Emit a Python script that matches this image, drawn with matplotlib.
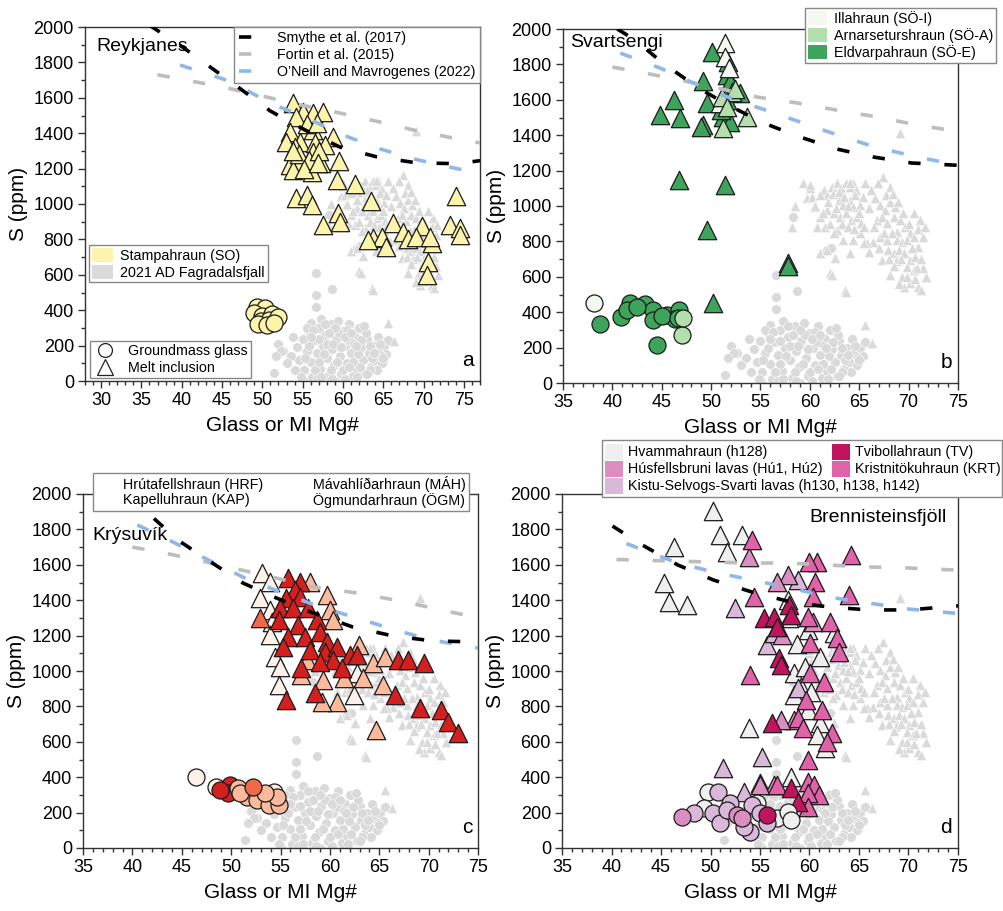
import matplotlib
matplotlib.use('Agg')
import matplotlib.pyplot as plt
from matplotlib.patches import Patch, Rectangle
from matplotlib.lines import Line2D

plt.rcParams['font.family'] = ['Liberation Sans', 'DejaVu Sans']

# ---------------- model curves (Mg#, S ppm) per panel ----------------
smythe_a = [(36, 2010), (40, 1890), (47, 1660), (51, 1525), (55.3, 1418), (59.6, 1322), (64.2, 1266), (69.2, 1232), (74.3, 1228), (77, 1245)]
fortin_a = [(37, 1730), (45.1, 1661), (50, 1610), (54.7, 1560), (59.6, 1514), (64.6, 1463), (69.3, 1412), (74.3, 1367), (77, 1345)]
oneill_a = [(39.8, 1785), (46.2, 1690), (50.9, 1571), (55.5, 1486), (60, 1390), (64.6, 1311), (69.3, 1249), (74.3, 1198), (77, 1180)]

smythe_b = [(40.5, 2000), (42.3, 1938), (45.1, 1808), (48.7, 1667), (51.7, 1571), (55.3, 1469), (59, 1390), (62.7, 1322), (66.4, 1277), (70.3, 1243), (75, 1230)]
fortin_b = [(40, 1785), (43.3, 1751), (46.8, 1712), (50.6, 1667), (54.6, 1616), (58.7, 1582), (62.7, 1542), (66.8, 1503), (70.4, 1463), (75, 1420)]
oneill_b = [(40.8, 1864), (44.8, 1780), (48.2, 1695), (51.9, 1610), (55.5, 1542), (59, 1475), (62.8, 1401), (66.6, 1333), (70.4, 1283), (75, 1230)]

smythe_c = [(39.5, 2000), (41.8, 1881), (44.6, 1740), (48.1, 1610), (51.2, 1497), (54.6, 1412), (58.3, 1328), (62.3, 1249), (66.4, 1198), (70.4, 1170), (75, 1164)]
fortin_c = [(40, 1700), (42.8, 1672), (46.6, 1627), (50.6, 1576), (54.6, 1525), (58.3, 1475), (62.7, 1441), (66.6, 1401), (70.4, 1356), (75, 1300)]
oneill_c = [(40.5, 1825), (44.1, 1729), (47.7, 1627), (51.4, 1525), (55.2, 1441), (59, 1362), (62.7, 1300), (66.6, 1232), (70.3, 1175), (75, 1130)]

smythe_d = [(40.1, 1819), (43.1, 1712), (46.7, 1599), (50.3, 1514), (54.2, 1446), (58.1, 1390), (61.9, 1362), (66, 1345), (70, 1345), (75, 1368)]
fortin_d = [(40.5, 1630), (45.6, 1622), (49.7, 1616), (53.7, 1610), (57.8, 1610), (61.8, 1599), (65.9, 1588), (69.9, 1582), (75, 1570)]
oneill_d = [(41.5, 1720), (46.4, 1616), (50.3, 1559), (54.2, 1514), (58.1, 1469), (61.9, 1418), (66, 1384), (70, 1350), (75, 1325)]

# ---------------- 2021 AD Fagradalsfjall (background, all panels) ----------------
fag_mi_x = [59.7, 60.2, 60.7, 61.4, 61.7, 62.2, 62.7, 63.2, 63.7, 64.1, 64.4, 64.7, 62.9, 63.4, 64.1, 64.4, 65.1, 65.6,
            61.7, 62.4, 63.1, 63.7, 64.2, 64.7, 65.2, 62.7, 63.4, 61.0, 61.7, 62.5, 62.0, 63.6, 67.4, 68.1, 66.6, 67.1,
            67.6, 68.1, 68.6, 66.8, 67.3, 67.8, 68.5, 69.1, 69.6, 68.8, 70.1, 71.2, 66.4, 67.1, 67.8, 68.3, 68.8, 69.3,
            69.8, 70.5, 71.0, 71.5, 67.3, 67.9, 68.5, 69.0, 69.5, 70.1, 70.6, 69.8, 70.5, 71.5, 68.1, 69.3, 70.1, 71.0,
            71.8, 71.3, 69.5, 69.1, 65.6, 66.3, 64.1, 62.4, 61.0, 60.4, 65.1, 64.4, 59.3, 58.5, 58.2, 64.1, 62.2, 63.7,
            62.5, 60.0, 65.8,
            60.0, 60.5, 61.0, 61.3, 61.8, 62.3, 62.6, 63.0, 63.5, 63.9, 64.6, 65.0, 65.4, 61.5, 62.0, 63.3, 63.9, 64.5,
            65.5, 66.0, 66.2, 66.9, 67.7, 68.4, 68.9, 69.4, 70.0, 70.5, 71.0, 71.7, 66.5, 67.0, 67.5, 68.0, 68.7, 69.2,
            70.3, 70.8, 71.3, 69.0, 69.8, 70.6, 68.5, 66.0, 65.5]
fag_mi_s = [1043, 1053, 883, 1090, 1062, 1109, 1128, 1100, 1128, 1109, 1128, 1090, 1034, 1006, 1034, 996, 1006, 1128,
            977, 959, 940, 959, 921, 940, 902, 864, 808, 733, 751, 714, 620, 525, 1166, 1109, 1043, 1006,
            977, 1025, 996, 921, 940, 902, 940, 921, 883, 855, 846, 921, 799, 827, 808, 846, 808, 799,
            808, 827, 770, 827, 695, 751, 733, 751, 733, 695, 714, 657, 638, 648, 610, 601, 563, 544,
            601, 525, 544, 1411, 328, 224, 733, 846, 940, 996, 846, 808, 1130, 1000, 880, 1130, 610, 514,
            706, 1100, 790,
            1120, 1000, 1060, 960, 1020, 1070, 990, 1080, 1050, 1000, 1060, 960, 1050, 880, 900, 900, 880, 870,
            880, 990, 1090, 1130, 1060, 1070, 1020, 960, 900, 960, 870, 880, 880, 760, 850, 700, 690, 700,
            760, 650, 700, 560, 600, 590, 660, 740, 790]
fag_gl_x = [54.3, 54.6, 55.0, 55.2, 55.5, 55.8, 56.0, 56.2, 56.5, 56.8, 57.0, 57.2, 57.5, 57.8, 58.0, 58.2, 58.5, 58.6,
            58.9, 59.1, 59.4, 59.6, 59.8, 60.0, 60.3, 60.5, 60.8, 61.0, 61.2, 61.5, 61.7, 62.0, 62.2, 62.5, 62.7, 63.0,
            63.2, 63.5, 63.8, 64.0, 64.3, 64.5, 64.8, 65.1, 65.4, 65.6, 57.3, 56.0, 59.0, 60.2, 61.9, 58.0, 57.0, 59.5,
            60.7, 62.8, 55.5, 56.5, 62.3, 63.6, 64.2, 61.3, 60.0, 58.5, 57.8, 59.0, 60.5, 52.0, 52.6, 53.5, 53.0, 54.0,
            53.8, 51.4, 52.3, 51.7, 55.1, 58.3, 61.7, 62.1, 56.6, 56.6, 56.6, 58.7, 54.8, 56.8, 59.8, 61.4, 63.3, 64.9,
            55.3, 55.8, 56.3, 57.0, 57.6, 58.3, 58.8, 59.3, 59.8, 60.2, 60.8, 61.0, 61.6, 62.1, 62.6, 63.3, 63.9, 64.6,
            65.0, 57.3, 58.6, 61.8, 63.0, 56.0]
fag_gl_s = [190, 120, 240, 60, 170, 280, 110, 20, 230, 160, 300, 70, 200, 260, 130, 30, 320, 180,
            90, 240, 340, 140, 40, 280, 200, 100, 320, 160, 30, 250, 70, 300, 190, 120, 40, 240,
            160, 80, 200, 120, 250, 170, 100, 200, 150, 230, 350, 330, 0, 10, 150, 210, 110, 270,
            230, 270, 300, 60, 230, 130, 60, 110, 60, 60, 320, 300, 290, 210, 170, 140, 100, 60,
            250, 45, 168, 139, 5, 940, 751, 765, 610, 484, 416, 522, 20, 10, 190, 210, 60, 140,
            130, 200, 290, 240, 150, 270, 210, 110, 190, 250, 80, 270, 200, 80, 310, 200, 160, 210,
            130, 20, 10, 20, 40, 250]

# ---------------- a: Reykjanes (Stampahraun, SO) ----------------
so_mi_x = [53.8, 55.0, 56.3, 57.5, 54.2, 53.4, 56.3, 58.8, 52.9, 54.7, 56.5, 57.8, 54.0, 56.3, 53.8, 54.7, 57.3, 59.5,
           53.4, 56.1, 53.8, 59.2, 61.5, 54.2, 55.6, 56.1, 59.4, 59.6, 57.5, 63.5, 66.2, 63.7, 64.8, 65.4, 67.5, 68.1,
           69.8, 69.1, 71.0, 70.6, 70.4, 74.0, 73.3, 74.5, 74.5, 63.1, 70.8, 55.5, 56.8, 54.5, 55.8, 57.0, 53.8, 55.2, 56.9]
so_mi_s = [1573, 1522, 1512, 1522, 1494, 1409, 1418, 1377, 1352, 1352, 1343, 1333, 1324, 1296, 1249, 1239, 1230, 1243,
           1220, 1183, 1192, 1136, 1113, 1032, 1051, 994, 947, 900, 881, 1019, 891, 806, 815, 759, 844, 801,
           876, 815, 781, 674, 599, 1045, 881, 863, 825, 797, 815, 1450, 1460, 1280, 1250, 1300, 1300, 1200, 1230]
so_gl_x = [49.3, 50.3, 49.0, 50.0, 51.2, 49.8, 50.8, 52.0, 49.5, 50.6, 51.5]
so_gl_s = [420, 410, 385, 370, 380, 340, 345, 360, 320, 315, 330]

# ---------------- b: Svartsengi ----------------
eld_mi_x = [50.1, 51.7, 51.6, 49.2, 52.9, 46.2, 49.6, 51.6, 44.8, 46.8, 49.2, 49.0, 51.2, 51.9, 46.7, 51.4, 49.6, 57.8,
            57.8, 50.2, 51.7, 51.9, 51.0]
eld_mi_s = [1872, 1815, 1740, 1708, 1637, 1599, 1580, 1599, 1514, 1496, 1458, 1448, 1505, 1476, 1147, 1119, 864, 680,
            660, 450, 1646, 1700, 1540]
ill_mi_x = [51.4, 51.4, 51.8, 50.9]
ill_mi_s = [1919, 1844, 1780, 1580]
arn_mi_x = [52.1, 51.1, 53.6, 51.2, 52.4, 51.6]
arn_mi_s = [1646, 1618, 1505, 1439, 1660, 1560]
eld_gl_x = [41.8, 43.3, 40.9, 38.7, 44.1, 44.1, 45.5, 46.7, 46.3, 44.5, 41.5, 42.5, 45.0, 46.6]
eld_gl_s = [450, 445, 375, 333, 412, 356, 384, 412, 362, 215, 412, 428, 380, 370]
ill_gl_x = [38.1]
ill_gl_s = [450]
arn_gl_x = [47.0, 47.2]
arn_gl_s = [271, 365]

# ---------------- c: Krýsuvík ----------------
hrf_mi_x = [53.1, 53.9, 52.9, 53.9, 54.1, 53.9, 54.4, 54.9, 54.8, 62.4, 62.7]
hrf_mi_s = [1552, 1505, 1411, 1345, 1279, 1203, 1081, 1024, 921, 864, 987]
kap_mi_x = [58.0, 59.7, 60.0, 60.3, 62.9, 64.4, 65.6, 65.4, 63.4, 61.4, 59.3, 60.7, 59.2, 57.1, 64.7, 57.7]
kap_mi_s = [1505, 1429, 1345, 1288, 1147, 1044, 1081, 921, 959, 959, 949, 827, 827, 977, 667, 1062]
mah_mi_x = [52.9]
mah_mi_s = [1298]
ogm_mi_x = [55.8, 57.0, 56.5, 55.6, 57.0, 54.9, 56.3, 57.8, 54.8, 56.8, 58.7, 55.8, 57.5, 59.0, 59.7, 55.3, 58.0, 59.5,
            60.7, 62.0, 62.7, 60.3, 59.0, 57.1, 61.2, 58.5, 55.6, 66.9, 67.9, 69.5, 66.6, 69.1, 71.3, 72.0, 73.0]
ogm_mi_s = [1524, 1505, 1458, 1411, 1420, 1354, 1354, 1354, 1288, 1260, 1288, 1194, 1194, 1222, 1166, 1137, 1119, 1109,
            1137, 1090, 1090, 1062, 1053, 1015, 1015, 874, 836, 1062, 1062, 1044, 864, 789, 780, 714, 648]
hrf_gl_x = [46.4, 48.5, 54.3]
hrf_gl_s = [403, 346, 318]
kap_gl_x = [50.7, 51.6, 52.6, 53.8, 54.8, 50.9, 54.6, 53.4]
kap_gl_s = [337, 290, 271, 243, 243, 309, 290, 309]
mah_gl_x = [52.2]
mah_gl_s = [346]
ogm_gl_x = [49.9, 49.7, 48.9]
ogm_gl_s = [356, 309, 328]

# ---------------- d: Brennisteinsfjöll ----------------
hva_mi_x = [50.3, 51.0, 53.2, 46.3, 51.7, 45.3, 45.8, 47.6, 53.9, 58.4, 59.1, 61.1, 61.6, 58.4, 59.8, 60.8, 58.1, 59.8,
            61.1, 62.5, 57.8, 58.7, 59.5, 60.2, 57.9]
hva_mi_s = [1906, 1768, 1768, 1702, 1674, 1496, 1392, 1373, 676, 987, 911, 704, 563, 864, 780, 638, 403, 1232,
            1081, 1213, 1401, 1150, 1020, 880, 1300]
kri_mi_x = [54.2, 60.8, 59.9, 64.2, 60.6, 64.0, 54.4, 60.4, 59.8, 62.1, 62.8, 60.1, 63.0, 60.1, 61.5, 54.0, 59.6, 61.3,
            58.8, 59.3, 62.3, 61.8, 59.8, 59.8, 60.5, 61.0, 59.8, 56.7, 59.8]
kri_mi_s = [1740, 1618, 1618, 1655, 1505, 1429, 1420, 1420, 1307, 1279, 1185, 1157, 1109, 987, 940, 977, 836, 780,
            733, 676, 648, 601, 497, 375, 356, 299, 309, 356, 233]
tvi_mi_x = [57.9, 55.4, 56.4, 58.1, 56.7, 56.9, 57.1, 56.2, 58.1, 58.8]
tvi_mi_s = [1373, 1298, 1307, 1316, 1250, 1072, 1034, 704, 337, 262]
hus_mi_x = [53.9, 57.8, 56.7, 57.2, 58.4, 57.1, 56.4, 55.0, 60.4]
hus_mi_s = [1646, 1542, 1505, 1203, 723, 723, 356, 356, 1279]
kis_mi_x = [52.5, 58.8, 55.7, 58.8, 55.2, 51.3, 55.0, 53.4, 56.4]
kis_mi_s = [1354, 1514, 1147, 902, 516, 450, 365, 318, 1213]
hva_gl_x = [49.7, 49.3, 56.7, 57.8, 58.1, 54.7]
hva_gl_s = [318, 224, 168, 205, 158, 252]
hus_gl_x = [47.1, 52.7, 53.2]
hus_gl_s = [177, 186, 168]
kis_gl_x = [48.3, 50.8, 50.3, 51.0, 52.0, 54.2, 54.0, 55.0, 55.7, 53.4, 51.7]
kis_gl_s = [196, 318, 196, 140, 252, 243, 92, 196, 140, 120, 215]
tvi_gl_x = [55.7]
tvi_gl_s = [186]

# ---------------- colours ----------------
C_FAG = '#dadada'
C_SO = '#fbf4aa'
C_ILL, C_ARN, C_ELD = '#f3f9f1', '#b2dfab', '#3fa45b'
C_HRF, C_KAP, C_MAH, C_OGM = '#fef0ea', '#fcb99c', '#f06a4a', '#d3201f'
C_HVA, C_HUS, C_KIS, C_TVI, C_KRI = '#efefef', '#dd8ec0', '#d9b8da', '#c0145f', '#e062a8'
C_SMY, C_FOR, C_ONE = '#000000', '#bdbdbd', '#8fb8ea'
DASH = (0, (3.4, 6.6))
LW = 2.6

W, H = 1004, 911
fig = plt.figure(figsize=(W / 100, H / 100), dpi=100)


def ax_at(l, t, r, b):
    return fig.add_axes([l / W, 1 - b / H, (r - l) / W, (b - t) / H])


ax_a = ax_at(85, 27, 480, 381)
ax_b = ax_at(563, 29, 958, 383)
ax_c = ax_at(83, 494, 478, 848)
ax_d = ax_at(562, 494, 958, 848)


def style(ax, xmin, xmax, first):
    ax.set_xlim(xmin, xmax)
    ax.set_ylim(0, 2000)
    ax.set_xticks(range(first, 76, 5))
    ax.set_xticks(range(int(xmin), int(xmax) + 1), minor=True)
    ax.set_yticks(range(0, 2001, 200))
    ax.set_yticks(range(0, 2001, 100), minor=True)
    ax.tick_params(which='both', direction='out', top=False, right=False,
                   labelsize=13, color='#333333', width=1)
    ax.tick_params(which='major', length=5, pad=3)
    ax.tick_params(which='minor', length=3)
    for s in ax.spines.values():
        s.set_color('#333333')
        s.set_linewidth(1)
    ax.set_xlabel('Glass or MI Mg#', fontsize=15, labelpad=5)
    ax.set_ylabel('S (ppm)', fontsize=15, labelpad=4)


def background(ax):
    ax.scatter(fag_gl_x, fag_gl_s, s=48, marker='o', color=C_FAG, edgecolor='white', linewidth=0.4, zorder=1)
    ax.scatter(fag_mi_x, fag_mi_s, s=55, marker='^', color=C_FAG, edgecolor='white', linewidth=0.4, zorder=1)


def curves(ax, smy, fort, one):
    for pts, c in ((fort, C_FOR), (one, C_ONE), (smy, C_SMY)):
        ax.plot([p[0] for p in pts], [p[1] for p in pts], color=c, lw=LW, ls=DASH, zorder=6,
                solid_capstyle='butt', dash_capstyle='butt')


def tri(ax, x, y, c, z=3):
    ax.scatter(x, y, s=175, marker='^', facecolor=c, edgecolor='#1a1a1a', linewidth=0.9, zorder=z)


def cir(ax, x, y, c, z=3):
    ax.scatter(x, y, s=150, marker='o', facecolor=c, edgecolor='#1a1a1a', linewidth=0.9, zorder=z)


def corner(ax, ch):
    ax.text(0.985, 0.03, ch, transform=ax.transAxes, ha='right', va='bottom', fontsize=15)


# ---- panel a ----
style(ax_a, 28, 77, 30)
background(ax_a)
tri(ax_a, so_mi_x, so_mi_s, C_SO)
cir(ax_a, so_gl_x, so_gl_s, C_SO)
curves(ax_a, smythe_a, fortin_a, oneill_a)
ax_a.text(0.03, 0.944, 'Reykjanes', transform=ax_a.transAxes, fontsize=14, va='center', ha='left')
corner(ax_a, 'a')
hl = [Line2D([], [], color=c, lw=LW, ls=DASH) for c in (C_SMY, C_FOR, C_ONE)]
leg1 = ax_a.legend(hl, ['Smythe et al. (2017)', 'Fortin et al. (2015)', 'O\u2019Neill and Mavrogenes (2022)'],
                   loc='upper right', bbox_to_anchor=(1.0, 1.0), borderaxespad=0, fontsize=10.3,
                   handlelength=2.4, handletextpad=0.3, labelspacing=0.2, borderpad=0.3,
                   fancybox=False, edgecolor='#888888', framealpha=1)
leg1.set_zorder(10)
ax_a.add_artist(leg1)
leg2 = ax_a.legend([Patch(facecolor=C_SO, edgecolor='none'), Patch(facecolor=C_FAG, edgecolor='none')],
                   ['Stampahraun (SO)', '2021 AD Fagradalsfjall'],
                   loc='upper left', bbox_to_anchor=(0.01, 0.384), borderaxespad=0, fontsize=10.3,
                   handlelength=1.5, handleheight=1.1, handletextpad=0.5, labelspacing=0.15, borderpad=0.2,
                   fancybox=False, edgecolor='#888888', framealpha=1)
leg2.set_zorder(10)
ax_a.add_artist(leg2)
leg3 = ax_a.legend([Line2D([], [], marker='o', ls='none', mfc='white', mec='#222222', ms=10, mew=0.9),
                    Line2D([], [], marker='^', ls='none', mfc='white', mec='#222222', ms=11, mew=0.9)],
                   ['Groundmass glass', 'Melt inclusion'],
                   loc='lower left', bbox_to_anchor=(0.012, 0.008), borderaxespad=0, fontsize=10.3,
                   handlelength=1.6, handletextpad=0.8, labelspacing=0.15, borderpad=0.25,
                   fancybox=False, edgecolor='#888888', framealpha=1)
leg3.set_zorder(10)

# ---- panel b ----
style(ax_b, 35, 75, 35)
background(ax_b)
tri(ax_b, eld_mi_x, eld_mi_s, C_ELD)
tri(ax_b, ill_mi_x, ill_mi_s, C_ILL)
tri(ax_b, arn_mi_x, arn_mi_s, C_ARN)
cir(ax_b, eld_gl_x, eld_gl_s, C_ELD)
cir(ax_b, ill_gl_x, ill_gl_s, C_ILL)
cir(ax_b, arn_gl_x, arn_gl_s, C_ARN)
curves(ax_b, smythe_b, fortin_b, oneill_b)
ax_b.text(0.018, 0.963, 'Svartsengi', transform=ax_b.transAxes, fontsize=14, va='center', ha='left')
corner(ax_b, 'b')
legb = ax_b.legend([Patch(facecolor=c, edgecolor='none') for c in (C_ILL, C_ARN, C_ELD)],
                   ['Illahraun (S\u00d6-I)', 'Arnarseturshraun (S\u00d6-A)', 'Eldvarpahraun (S\u00d6-E)'],
                   loc='upper left', bbox_to_anchor=(0.613, 1.059), borderaxespad=0, fontsize=10.3,
                   handlelength=1.3, handleheight=1.1, handletextpad=0.5, labelspacing=0.15, borderpad=0.2,
                   fancybox=False, edgecolor='#888888', framealpha=1)
legb.set_zorder(10)

# ---- panel c ----
style(ax_c, 35, 75, 35)
background(ax_c)
tri(ax_c, hrf_mi_x, hrf_mi_s, C_HRF)
tri(ax_c, kap_mi_x, kap_mi_s, C_KAP)
tri(ax_c, mah_mi_x, mah_mi_s, C_MAH)
tri(ax_c, ogm_mi_x, ogm_mi_s, C_OGM)
cir(ax_c, hrf_gl_x, hrf_gl_s, C_HRF)
cir(ax_c, ogm_gl_x, ogm_gl_s, C_OGM)
cir(ax_c, kap_gl_x, kap_gl_s, C_KAP)
cir(ax_c, mah_gl_x, mah_gl_s, C_MAH)
curves(ax_c, smythe_c, fortin_c, oneill_c)
ax_c.text(0.025, 0.884, 'Kr\u00fdsuv\u00edk', transform=ax_c.transAxes, fontsize=14, va='center', ha='left')
corner(ax_c, 'c')
legc = ax_c.legend([Patch(facecolor='none', edgecolor='none') for _ in range(4)],
                   ['Hr\u00fatafellshraun (HRF)', 'Kapelluhraun (KAP)',
                    'M\u00e1vahl\u00ed\u00f0arhraun (M\u00c1H)', '\u00d6gmundarhraun (\u00d6GM)'],
                   ncol=2, loc='upper left', bbox_to_anchor=(0.025, 1.059), borderaxespad=0, fontsize=10.3,
                   handlelength=1.3, handletextpad=0.6, labelspacing=0.1, borderpad=0.2, columnspacing=1.6,
                   fancybox=False, edgecolor='#888888', framealpha=1)
legc.set_zorder(10)

# ---- panel d ----
style(ax_d, 35, 75, 35)
background(ax_d)
tri(ax_d, hva_mi_x, hva_mi_s, C_HVA)
tri(ax_d, kis_mi_x, kis_mi_s, C_KIS)
tri(ax_d, hus_mi_x, hus_mi_s, C_HUS)
tri(ax_d, kri_mi_x, kri_mi_s, C_KRI)
tri(ax_d, tvi_mi_x, tvi_mi_s, C_TVI)
cir(ax_d, hva_gl_x, hva_gl_s, C_HVA)
cir(ax_d, kis_gl_x, kis_gl_s, C_KIS)
cir(ax_d, hus_gl_x, hus_gl_s, C_HUS)
cir(ax_d, tvi_gl_x, tvi_gl_s, C_TVI)
curves(ax_d, smythe_d, fortin_d, oneill_d)
ax_d.text(0.972, 0.935, 'Brennisteinsfj\u00f6ll', transform=ax_d.transAxes, fontsize=14, va='center', ha='right')
corner(ax_d, 'd')

# manual two-column legend for panel d (long last entry spans both columns)
d_labels = ['Hvammahraun (h128)', 'H\u00fasfellsbruni lavas (H\u00fa1, H\u00fa2)',
            'Kistu-Selvogs-Svarti lavas (h130, h138, h142)', 'Tvibollahraun (TV)', 'Kristnit\u00f6kuhraun (KRT)']
d_colors = [C_HVA, C_HUS, C_KIS, C_TVI, C_KRI]
d_slots = [(0, 0), (0, 1), (0, 2), (1, 0), (1, 1)]
T = ax_d.transAxes
box = Rectangle((0.101, 0.992), 1.010, 0.161, transform=T, clip_on=False, facecolor='white',
                edgecolor='#888888', linewidth=1, zorder=10)
ax_d.add_patch(box)
col_x = [0.109, 0.682]
row_y = [1.119, 1.071, 1.023]
for lab, c, (ci, ri) in zip(d_labels, d_colors, d_slots):
    ax_d.add_patch(Rectangle((col_x[ci], row_y[ri] - 0.022), 0.045, 0.044, transform=T, clip_on=False,
                             facecolor=c, edgecolor='none', zorder=11))
    ax_d.text(col_x[ci] + 0.058, row_y[ri], lab, transform=T, fontsize=10.3, va='center', ha='left',
              zorder=12, clip_on=False)

fig.savefig('out.png', dpi=100)
